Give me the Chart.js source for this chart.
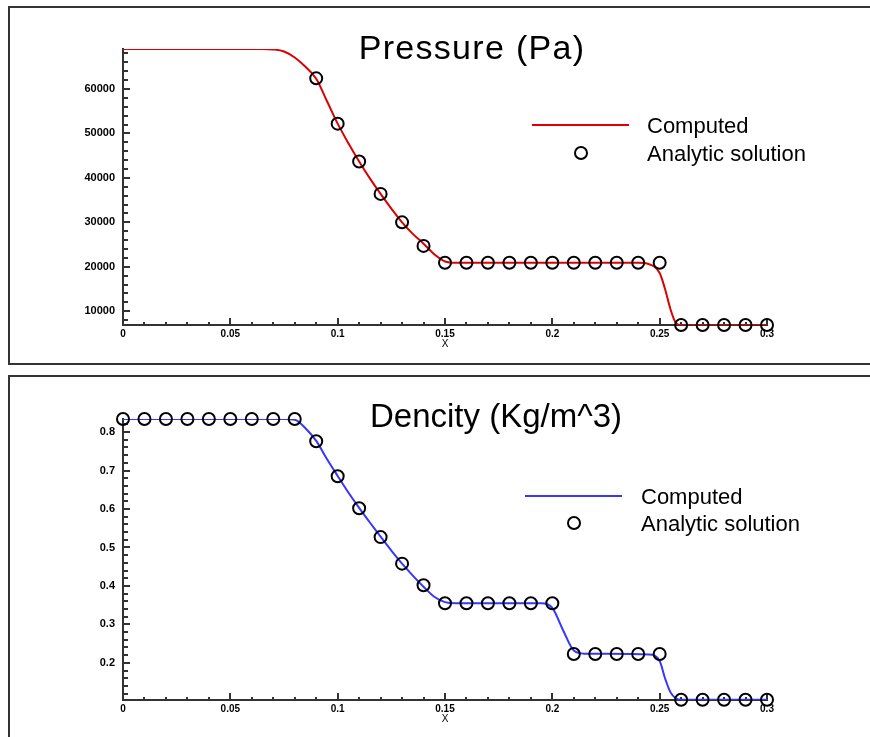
<!DOCTYPE html>
<html>
<head>
<meta charset="utf-8">
<title>Shock tube: pressure and density</title>
<script src="https://cdn.jsdelivr.net/npm/chart.js@4"></script>
<style>
    html, body { margin: 0; background: #fff; overflow: hidden; }
    .panel {
        position: absolute;
        left: 8px;
        width: 1000px;
        border: 2px solid #333;
        background: #fff;
    }
    #panelPressure { top: 6px; height: 355px; }
    #panelDensity { top: 375px; height: 400px; }
    canvas { display: block; }
</style>
</head>
<body>
<div class="panel" id="panelPressure"><canvas id="pressureChart" width="1000" height="355"></canvas></div>
<div class="panel" id="panelDensity"><canvas id="densityChart" width="1000" height="400"></canvas></div>

<script>
// =======================
// Data
// =======================

// axis ticks
const xTicks = [0, 0.05, 0.1, 0.15, 0.2, 0.25, 0.3];
const pressureTicks = [10000, 20000, 30000, 40000, 50000, 60000];
const densityTicks = [0.2, 0.3, 0.4, 0.5, 0.6, 0.7, 0.8];

// computed pressure profile (Pa)
const pressureX = [
    0, 0.065, 0.07, 0.075, 0.08, 0.085, 0.09, 0.095, 0.1, 0.105,
    0.11, 0.115, 0.12, 0.125, 0.13, 0.135, 0.14, 0.145, 0.15, 0.155,
    0.24, 0.245, 0.25, 0.2525, 0.255, 0.2575, 0.26, 0.3
];
const pressureComputed = [
    69000, 69000, 68900, 68450, 67100, 65000, 62300, 57300, 52200, 47800,
    43700, 39900, 36400, 33100, 30000, 27400, 25200, 22800, 21200, 20900,
    20900, 20600, 18600, 15000, 10500, 7400, 6900, 6900
];

// analytic pressure
const pressureExactX = [
    0.09, 0.1, 0.11, 0.12, 0.13, 0.14, 0.15, 0.16, 0.17, 0.18, 0.19,
    0.2, 0.21, 0.22, 0.23, 0.24, 0.25, 0.26, 0.27, 0.28, 0.29, 0.3
];
const pressureExact = [
    62400, 52200, 43700, 36400, 30000, 24700, 20900, 20900, 20900, 20900, 20900,
    20900, 20900, 20900, 20900, 20900, 20900, 6900, 6900, 6900, 6900, 6900
];

// computed density profile (kg/m^3)
const densityX = [
    0, 0.075, 0.08, 0.085, 0.09, 0.095, 0.1, 0.105, 0.11, 0.115,
    0.12, 0.125, 0.13, 0.135, 0.14, 0.145, 0.15, 0.155, 0.195, 0.2,
    0.205, 0.21, 0.215, 0.245, 0.25, 0.2525, 0.255, 0.2575, 0.26, 0.3
];
const densityComputed = [
    0.834, 0.834, 0.832, 0.81, 0.777, 0.73, 0.686, 0.643, 0.603, 0.565,
    0.528, 0.492, 0.458, 0.427, 0.398, 0.372, 0.358, 0.355, 0.355, 0.343,
    0.285, 0.232, 0.224, 0.222, 0.205, 0.16, 0.124, 0.108, 0.104, 0.104
];

// analytic density
const densityExactX = [
    0, 0.01, 0.02, 0.03, 0.04, 0.05, 0.06, 0.07, 0.08, 0.09, 0.1,
    0.11, 0.12, 0.13, 0.14, 0.15, 0.16, 0.17, 0.18, 0.19, 0.2,
    0.21, 0.22, 0.23, 0.24, 0.25, 0.26, 0.27, 0.28, 0.29, 0.3
];
const densityExact = [
    0.834, 0.834, 0.834, 0.834, 0.834, 0.834, 0.834, 0.834, 0.834, 0.776, 0.685,
    0.602, 0.527, 0.458, 0.402, 0.355, 0.355, 0.355, 0.355, 0.355, 0.355,
    0.223, 0.223, 0.223, 0.223, 0.223, 0.104, 0.104, 0.104, 0.104, 0.104
];

const FONT = "'Liberation Sans', Arial, sans-serif";

// ---------- PLUGINS ----------

// tick marks pointing into the plot, majors + minors
const inwardTicks = {
    id: "inwardTicks",
    beforeDatasetsDraw(chart, args, opts) {
        const { ctx, chartArea, scales } = chart;

        const values = (scale, step, minorLen) => {
            const majors = scale.ticks.map(t => t.value);
            const out = [];
            const first = Math.ceil(scale.min / step - 1e-6);
            const last = Math.floor(scale.max / step + 1e-6);
            for (let n = first; n <= last; n++) {
                const v = n * step;
                const isMajor = majors.some(m => Math.abs(m - v) < step / 10);
                out.push({ v, len: isMajor ? 7 : minorLen });
            }
            majors.forEach(m => {
                if (!out.some(o => Math.abs(o.v - m) < step / 10)) out.push({ v: m, len: 7 });
            });
            return out;
        };

        ctx.save();
        ctx.strokeStyle = "#333";
        ctx.lineWidth = 2;
        ctx.beginPath();

        values(scales.x, opts.xStep, 3).forEach(({ v, len }) => {
            const px = Math.round(scales.x.getPixelForValue(v));
            ctx.moveTo(px, chartArea.bottom);
            ctx.lineTo(px, chartArea.bottom - len);
        });

        values(scales.y, opts.yStep, 5).forEach(({ v, len }) => {
            const py = Math.round(scales.y.getPixelForValue(v));
            ctx.moveTo(chartArea.left, py);
            ctx.lineTo(chartArea.left + len, py);
        });

        ctx.stroke();
        ctx.restore();
    }
};

// big heading over each panel
const panelTitle = {
    id: "panelTitle",
    afterDraw(chart, args, opts) {
        const { ctx } = chart;
        ctx.save();
        ctx.font = opts.font;
        ctx.letterSpacing = opts.spacing || "0px";
        ctx.fillStyle = "#000";
        ctx.textAlign = "center";
        ctx.textBaseline = "alphabetic";
        ctx.fillText(opts.text, opts.x, opts.y);
        ctx.restore();
    }
};

// line / circle key, labels taken from the datasets
const sampleLegend = {
    id: "sampleLegend",
    afterDraw(chart, args, opts) {
        const { ctx } = chart;
        const [computed, exact] = chart.data.datasets;

        ctx.save();
        ctx.lineWidth = 2;

        ctx.strokeStyle = computed.borderColor;
        ctx.beginPath();
        ctx.moveTo(opts.x, opts.lineY);
        ctx.lineTo(opts.x + 97, opts.lineY);
        ctx.stroke();

        ctx.strokeStyle = exact.borderColor;
        ctx.beginPath();
        ctx.arc(opts.x + 49, opts.markY, 6, 0, Math.PI * 2);
        ctx.stroke();

        ctx.fillStyle = "#000";
        ctx.font = "22px " + FONT;
        ctx.textBaseline = "alphabetic";
        ctx.fillText(computed.label, opts.textX, opts.lineY + 8);
        ctx.fillText(exact.label, opts.textX, opts.markY + 8);
        ctx.restore();
    }
};

// ---------- CHART BUILDER ----------
function buildChart(canvasId, cfg) {
    const canvas = document.getElementById(canvasId);
    if (!canvas) return;

    const toPoints = (xs, ys) => xs.map((x, i) => ({ x, y: ys[i] }));

    new Chart(canvas, {
        type: "line",
        data: {
            datasets: [
                {
                    label: "Computed",
                    data: toPoints(cfg.lineX, cfg.lineY),
                    borderColor: cfg.color,
                    borderWidth: 2,
                    pointRadius: 0,
                    cubicInterpolationMode: "monotone",
                    fill: false,
                    order: 2
                },
                {
                    label: "Analytic solution",
                    data: toPoints(cfg.dotX, cfg.dotY),
                    showLine: false,
                    borderColor: "#000",
                    backgroundColor: "rgba(0,0,0,0)",
                    pointRadius: 6,
                    pointBorderWidth: 2,
                    clip: false,
                    order: 1
                }
            ]
        },
        plugins: [inwardTicks, panelTitle, sampleLegend],
        options: {
            responsive: false,
            animation: false,
            events: [],
            layout: {
                padding: { left: 0, top: cfg.top, right: 243, bottom: cfg.bottom }
            },
            plugins: {
                legend: { display: false },
                tooltip: { enabled: false },
                inwardTicks: { xStep: 0.01, yStep: cfg.minorStep },
                panelTitle: cfg.title,
                sampleLegend: cfg.legend
            },
            scales: {
                x: {
                    type: "linear",
                    min: 0,
                    max: 0.3,
                    afterBuildTicks(scale) {
                        scale.ticks = xTicks.map(v => ({ value: v }));
                    },
                    afterFit(scale) {
                        scale.height = 26;
                    },
                    grid: { display: false, drawTicks: false },
                    border: { color: "#333", width: 2 },
                    ticks: {
                        color: "#000",
                        padding: 3,
                        maxRotation: 0,
                        font: { family: FONT, size: 10, weight: "bold" },
                        callback: v => String(v)
                    },
                    title: {
                        display: true,
                        text: "X",
                        color: "#000",
                        font: { family: FONT, size: 10 },
                        padding: { top: 0, bottom: 1 }
                    }
                },
                y: {
                    type: "linear",
                    min: cfg.yMin,
                    max: cfg.yMax,
                    afterBuildTicks(scale) {
                        scale.ticks = cfg.yTicks.map(v => ({ value: v }));
                    },
                    afterFit(scale) {
                        scale.width = 113;
                    },
                    grid: { display: false, drawTicks: false },
                    border: { color: "#333", width: 2 },
                    ticks: {
                        color: "#000",
                        padding: 8,
                        font: { family: FONT, size: 11, weight: "bold" },
                        callback: v => String(v)
                    }
                }
            }
        }
    });
}

// =======================
// Pressure panel
// =======================
buildChart("pressureChart", {
    lineX: pressureX,
    lineY: pressureComputed,
    dotX: pressureExactX,
    dotY: pressureExact,
    color: "#dd0000",
    yMin: 6900,
    yMax: 69000,
    yTicks: pressureTicks,
    minorStep: 2000,
    top: 41,
    bottom: 12,
    title: { text: "Pressure (Pa)", x: 462, y: 51, font: "34px " + FONT, spacing: "1.3px" },
    legend: { x: 522, lineY: 117, markY: 145, textX: 637 }
});

// =======================
// Density panel
// =======================
buildChart("densityChart", {
    lineX: densityX,
    lineY: densityComputed,
    dotX: densityExactX,
    dotY: densityExact,
    color: "#3636ff",
    yMin: 0.1035,
    yMax: 0.834,
    yTicks: densityTicks,
    minorStep: 0.02,
    top: 42,
    bottom: 51,
    title: { text: "Dencity (Kg/m^3)", x: 486, y: 50, font: "33px " + FONT },
    legend: { x: 515, lineY: 119, markY: 146, textX: 631 }
});
</script>
</body>
</html>
